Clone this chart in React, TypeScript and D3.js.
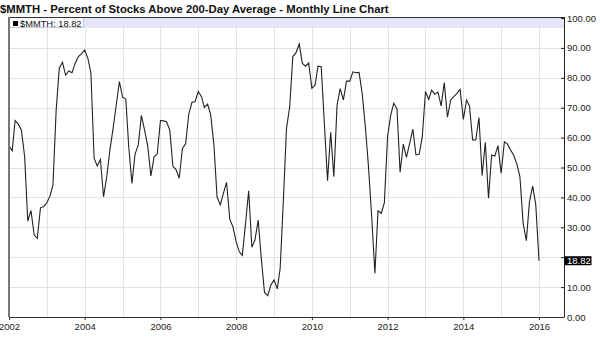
import React, { useEffect, useRef } from "react";
import * as d3 from "d3";

// monthly readings, Jan 2002 .. Jan 2016
const startYear = 2002;
const values = [
  57.3, 55.6, 65.7, 64.5, 62.5, 53.6, 32.1, 35.6, 27.4, 26.3, 36.6, 36.9,
  38.2, 40.5, 44.1, 69.2, 83.2, 85.2, 80.9, 82.3, 81.7, 84.8, 87.1, 88,
  89.3, 86.5, 81.7, 53.1, 50.5, 52.7, 40.2, 47, 56, 63, 71, 78.7,
  73.5, 72.9, 57, 44.7, 54.5, 57.5, 67.4, 62.5, 57, 47.2, 53.6, 54.5,
  65.7, 65.6, 65.3, 62.5, 50.5, 49.2, 46.4, 56.4, 57.9, 67.8, 71.8, 72,
  75.4, 73.7, 70.1, 71.2, 67.6, 57.5, 40.2, 37.5, 41.4, 45, 32.7, 30.2,
  25.2, 21.8, 20.6, 31.3, 42.2, 23.3, 25.8, 32.4, 19.1, 8.2, 7.1, 10.7,
  12.4, 9.4, 16.3, 39.1, 63.1, 70.3, 87.1, 88.4, 91.3, 84.8, 83.9, 85,
  76.5, 77.6, 83.9, 83.7, 65, 45.6, 61.8, 46.9, 70.9, 76.4, 72.6, 78.9,
  78.9, 82, 81.7, 81.8, 74.8, 63.6, 50.3, 33.5, 14.6, 35.5, 34.7, 38.2,
  60.3, 67.6, 71.5, 69.6, 48.4, 57.8, 53.4, 58.1, 62.8, 54.2, 54.4, 60.3,
  75.4, 72.8, 75.9, 74.5, 75.2, 70.6, 78.4, 66.8, 72.6, 73.7, 74.8, 76.1,
  66.1, 72.6, 70.6, 59.2, 59.2, 66.7, 47.3, 58.4, 39.7, 54.2, 53.8, 57.3,
  48.1, 58.6, 57.9, 55.9, 54.2, 51.2, 46.9, 31.3, 25.5, 38.6, 43.8, 37.5,
  18.82,
];
const yTicks = [0, 10, 20, 30, 40, 50, 60, 70, 80, 90, 100];
const yearLabels = [2002, 2004, 2006, 2008, 2010, 2012, 2014, 2016];
const gridYears = d3.range(2003, 2017);
const symbol = "$MMTH";
const title = "$MMTH - Percent of Stocks Above 200-Day Average - Monthly Line Chart";

const W = 600;
const H = 352;
const left = 9;
const right = 564;
const top = 17;
const bottom = 317;

const App = () => {
  const ref = useRef<SVGSVGElement>(null);

  useEffect(() => {
    const svg = d3.select(ref.current);
    svg.selectAll("*").remove();

    const data = values.map((v, i) => ({ date: new Date(startYear, i, 1), value: v }));
    const last = data[data.length - 1];

    const x = d3
      .scaleTime()
      .domain([new Date(2002, 0, 1), new Date(2016, 0, 1)])
      .range([left, 539]);
    const y = d3.scaleLinear().domain([0, 100]).range([bottom, 18]);

    const font = "'Liberation Sans', Arial, sans-serif";

    svg.append("rect").attr("width", W).attr("height", H).attr("fill", "#fff");

    // title
    svg
      .append("text")
      .attr("x", 0)
      .attr("y", 13)
      .style("font-family", font)
      .style("font-weight", "bold")
      .style("font-size", "11.3px")
      .attr("fill", "#111")
      .text(title);

    // grid
    const grid = svg.append("g").attr("stroke", "#e2e2e2").attr("stroke-width", 1);
    grid
      .selectAll("line.v")
      .data(gridYears)
      .enter()
      .append("line")
      .attr("x1", d => Math.round(x(new Date(d, 0, 1))) + 0.5)
      .attr("x2", d => Math.round(x(new Date(d, 0, 1))) + 0.5)
      .attr("y1", top)
      .attr("y2", bottom);
    grid
      .selectAll("line.h")
      .data(yTicks.slice(1, -1))
      .enter()
      .append("line")
      .attr("x1", left)
      .attr("x2", right)
      .attr("y1", d => Math.round(y(d)) + 0.5)
      .attr("y2", d => Math.round(y(d)) + 0.5);

    // lavender legend band
    svg
      .append("rect")
      .attr("x", left)
      .attr("y", top)
      .attr("width", right - left)
      .attr("height", 11)
      .attr("fill", "#e4e4fa");

    // legend box
    svg
      .append("rect")
      .attr("x", left + 0.5)
      .attr("y", top + 0.5)
      .attr("width", 74)
      .attr("height", 10)
      .attr("fill", "#fafaff")
      .attr("stroke", "#c8c8d8");
    svg
      .append("rect")
      .attr("x", 13)
      .attr("y", 21)
      .attr("width", 5)
      .attr("height", 5)
      .attr("fill", "#000");
    svg
      .append("text")
      .attr("x", 20)
      .attr("y", 26.5)
      .style("font-family", font)
      .style("font-size", "9.3px")
      .attr("fill", "#111")
      .text(`${symbol}: ${d3.format(".2f")(last.value)}`);

    // line
    const line = d3
      .line<{ date: Date; value: number }>()
      .x(d => x(d.date))
      .y(d => y(d.value));
    svg
      .append("path")
      .datum(data)
      .attr("d", line)
      .attr("fill", "none")
      .attr("stroke", "#222")
      .attr("stroke-width", 1.1);

    // frame
    svg
      .append("line")
      .attr("x1", left)
      .attr("x2", right)
      .attr("y1", top + 0.5)
      .attr("y2", top + 0.5)
      .attr("stroke", "#333");
    svg
      .append("line")
      .attr("x1", left)
      .attr("x2", left)
      .attr("y1", top)
      .attr("y2", bottom)
      .attr("stroke", "#777")
      .attr("stroke-width", 2);

    // bottom axis
    const xAxis = d3
      .axisBottom(x)
      .tickValues(yearLabels.map(yr => new Date(yr, 0, 1)))
      .tickFormat(d3.timeFormat("%Y") as any)
      .tickSize(3)
      .tickSizeOuter(0);
    const gx = svg.append("g").attr("transform", `translate(0,${bottom})`).call(xAxis);
    gx.select(".domain").attr("stroke", "#333").attr("d", `M${left},0.5H${right}`);
    gx.selectAll(".tick line").attr("stroke", "#333");
    gx.selectAll("text")
      .attr("y", 6)
      .style("font-family", font)
      .style("font-size", "9.5px")
      .attr("fill", "#222");

    // right axis
    const ly = y(last.value);
    const yAxis = d3
      .axisRight(y)
      .tickValues(yTicks)
      .tickFormat(d3.format(".2f") as any)
      .tickSize(0)
      .tickSizeOuter(0);
    const gy = svg.append("g").attr("transform", `translate(${right},0)`).call(yAxis);
    gy.select(".domain").attr("stroke", "#222").attr("d", `M0.5,${top}V${bottom + 0.5}`);
    gy.selectAll(".tick")
      .append("line")
      .attr("x1", -3)
      .attr("x2", 0)
      .attr("stroke", "#222");
    gy.selectAll("text")
      .attr("x", 3)
      .style("font-family", font)
      .style("font-size", "9.5px")
      .attr("fill", "#222");
    // the value tag hides the tick label it sits on
    gy.selectAll(".tick")
      .filter((d: any) => Math.abs(y(d) - ly) < 9)
      .select("text")
      .remove();

    // last value tag
    svg
      .append("rect")
      .attr("x", right + 0.5)
      .attr("y", ly - 4.5)
      .attr("width", 27)
      .attr("height", 9)
      .attr("fill", "#000");
    svg
      .append("text")
      .attr("x", right + 3)
      .attr("y", ly + 3.5)
      .style("font-family", font)
      .style("font-size", "9.5px")
      .attr("fill", "#fff")
      .text(d3.format(".2f")(last.value));
  }, []);

  return (
    <svg
      ref={ref}
      width={W}
      height={H}
      style={{ position: "absolute", left: 0, top: 0, display: "block" }}
    />
  );
};

export default App;
